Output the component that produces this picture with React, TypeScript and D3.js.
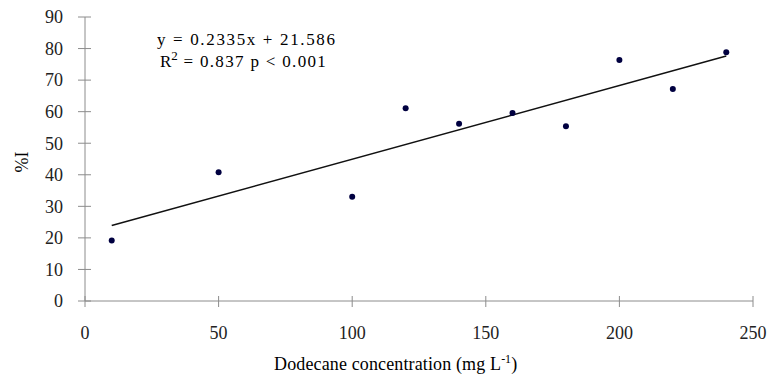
import * as d3 from 'd3'

const concentrations = [10, 50, 100, 120, 140, 160, 180, 200, 220, 240]
const inhibition = [19.2, 40.8, 33.0, 61.1, 56.2, 59.6, 55.4, 76.4, 67.2, 78.8]
const xTicks = [0, 50, 100, 150, 200, 250]
const yTicks = [0, 10, 20, 30, 40, 50, 60, 70, 80, 90]
const slope = 0.2335
const intercept = 21.586

const W = 770
const H = 383
const font = '"Liberation Serif", "Times New Roman", serif'
const axisColor = '#8c8c8c'

export default function App(): JSX.Element {
  const x = d3.scaleLinear().domain([0, 250]).range([85, 753])
  const y = d3.scaleLinear().domain([0, 90]).range([301, 17])

  const fitRange = d3.extent(concentrations) as [number, number]
  const fitLine = d3
    .line<number>()
    .x((d) => x(d))
    .y((d) => y(slope * d + intercept))(fitRange)

  return (
    <svg
      width={W}
      height={H}
      style={{ position: 'fixed', left: 0, top: 0, background: '#fff' }}
      fontFamily={font}
    >
      {/* axes */}
      <line x1={x(0)} x2={x(0)} y1={y(0)} y2={y(90)} stroke={axisColor} />
      <line x1={x(0)} x2={x(250)} y1={y(0)} y2={y(0)} stroke={axisColor} />
      {yTicks.map((t) => (
        <g key={`y${t}`}>
          <line x1={x(0) - 7} x2={x(0) + 6} y1={y(t)} y2={y(t)} stroke={axisColor} />
          <text x={63} y={y(t)} dy="0.35em" textAnchor="end" fontSize={18} fill="#222">
            {t}
          </text>
        </g>
      ))}
      {xTicks.map((t) => (
        <g key={`x${t}`}>
          <line x1={x(t)} x2={x(t)} y1={y(0) - 5} y2={y(0) + 6} stroke={axisColor} />
          <text x={x(t)} y={339} textAnchor="middle" fontSize={18} fill="#222">
            {t}
          </text>
        </g>
      ))}

      {/* trend line */}
      <path d={fitLine ?? ''} stroke="#111" strokeWidth={1.5} fill="none" />

      {/* points */}
      {concentrations.map((c, i) => (
        <circle key={c} cx={x(c)} cy={y(inhibition[i])} r={3} fill="#000040" />
      ))}

      {/* equation */}
      <text x={157} y={45} fontSize={17} fill="#000" textLength={178} lengthAdjust="spacing">
        y = 0.2335x + 21.586
      </text>
      <text x={160} y={67} fontSize={17} fill="#000">
        R<tspan dy={-7} fontSize={13}>2</tspan>
        <tspan dy={7} textLength={148} lengthAdjust="spacing"> = 0.837 p &lt; 0.001</tspan>
      </text>

      {/* axis titles */}
      <text
        transform={`translate(28, ${(y(0) + y(90)) / 2 + 3}) rotate(-90)`}
        textAnchor="middle"
        fontSize={18}
        fill="#000"
      >
        %I
      </text>
      <text x={274} y={370} fontSize={18} fill="#000">
        <tspan textLength={227} lengthAdjust="spacing">Dodecane concentration (mg L</tspan>
        <tspan dy={-7} fontSize={12}>-1</tspan>
        <tspan dy={7}>)</tspan>
      </text>
    </svg>
  )
}
